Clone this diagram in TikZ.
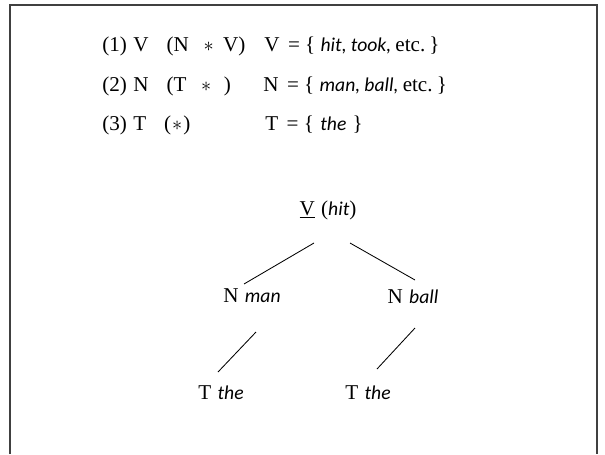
\documentclass[tikz,border=0pt]{standalone}
\usepackage{fontspec}
\setmainfont{Liberation Serif}
\newfontfamily\wordfont{Carlito}[Scale=0.93]
\usetikzlibrary{calc}
\newcommand{\wordit}[1]{{\wordfont\itshape #1}}

\begin{document}
\begin{tikzpicture}[x=0.025cm,y=-0.025cm,font=\fontsize{15}{18}\selectfont,line width=.6pt,
  rule/.style={anchor=west,inner sep=0pt},
  cat/.style={inner sep=1pt}]
\useasboundingbox (0,0) rectangle (605,454);
% bingkai
\draw[black!75,line width=.9pt] (10,454)--(10,5)--(597,5)--(597,454);
% aturan
\node[rule] (r1a) at (102,46) {(1)\hspace{.3em}V\hspace{.85em}(N\hspace{.7em}$\ast$\hspace{.45em}V)};
\node[rule] (r1b) at (264,46) {V\hspace{.4em}=\hspace{.25em}\{\hspace{.25em}\wordit{hit,}\hspace{.2em}\wordit{took,}\hspace{.2em}etc.\hspace{.2em}\}};
\node[rule] (r2a) at (102,86) {(2)\hspace{.3em}N\hspace{.85em}(T\hspace{.7em}$\ast$\hspace{.6em})};
\node[rule] (r2b) at (263,86) {N\hspace{.4em}=\hspace{.25em}\{\hspace{.25em}\wordit{man,}\hspace{.2em}\wordit{ball,}\hspace{.2em}etc.\hspace{.2em}\}};
\node[rule] (r3a) at (102,125) {(3)\hspace{.3em}T\hspace{.85em}(\hspace{.05em}$\ast$\hspace{.05em})};
\node[rule] (r3b) at (265,125) {T\hspace{.4em}=\hspace{.25em}\{\hspace{.3em}\wordit{the}\hspace{.3em}\}};
% pohon
\node[cat] (vhit) at (328,210) {\underline{V}\hspace{.3em}(\wordit{hit})};
\node[cat] (nman) at (252,296) {N\hspace{.3em}\wordit{man}};
\node[cat] (nball) at (413,297) {N\hspace{.3em}\wordit{ball}};
\node[cat] (tl) at (221,393) {T\hspace{.3em}\wordit{the}};
\node[cat] (tr) at (368,393) {T\hspace{.3em}\wordit{the}};
\draw ($(vhit)+(-14,33)$)--($(nman)+(-8,-12)$);
\draw ($(vhit)+(22,33)$)--($(nball)+(2,-17)$);
\draw ($(nman)+(4,36)$)--($(tl)+(-3,-21)$);
\draw ($(nball)+(2,31)$)--($(tr)+(9,-24)$);
\end{tikzpicture}
\end{document}
